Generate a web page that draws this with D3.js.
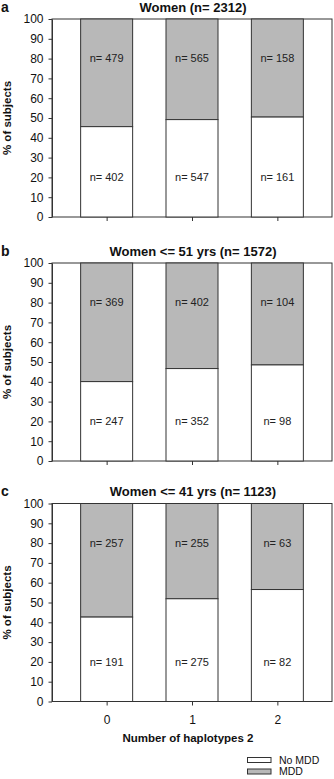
<!DOCTYPE html>
<html>
<head>
<meta charset="utf-8">
<script src="https://cdn.jsdelivr.net/npm/d3@7"></script>
<style>
  body { margin: 0; background: #fff; }
  text { font-family: "Liberation Sans", Arial, sans-serif; }
</style>
</head>
<body>
<div id="viz_container"></div>
<script>
// data
const haplotypes = [0, 1, 2];
const panelLetters = ["a", "b", "c"];
const panelTitles = ["Women (n= 2312)", "Women <= 51 yrs (n= 1572)", "Women <= 41 yrs (n= 1123)"];
const noMddCounts = [[402, 547, 161], [247, 352, 98], [191, 275, 82]];
const mddCounts = [[479, 565, 158], [369, 402, 104], [257, 255, 63]];
const yTicks = [0, 10, 20, 30, 40, 50, 60, 70, 80, 90, 100];
const legendLabels = ["No MDD", "MDD"];

const width = 334, height = 779;
const svg = d3.select("#viz_container")
  .append("svg")
  .attr("width", width)
  .attr("height", height);

const colors = ["#ffffff", "#b8b8b8"];
const strokeCol = "#333333";
const font = "'Liberation Sans', Arial, sans-serif";

// x scale shared by all panels
const x = d3.scalePoint()
  .domain(haplotypes)
  .range([52, 332])
  .padding(0.64);
const barW = 52;

// panel top positions
const panelTop = [19, 263, 503.5];
const panelH = 198;

panelTitles.forEach((title, i) => {
  const g = svg.append("g").attr("transform", `translate(0,${panelTop[i]})`);
  const y = d3.scaleLinear().domain([0, 100]).range([panelH, 0]);

  const rows = haplotypes.map((h, j) => {
    const tot = noMddCounts[i][j] + mddCounts[i][j];
    return { h, no: noMddCounts[i][j], mdd: mddCounts[i][j], pct: noMddCounts[i][j] / tot * 100 };
  });

  // frame
  g.append("rect")
    .attr("x", 52).attr("y", 0)
    .attr("width", 332 - 52).attr("height", panelH)
    .attr("fill", "none")
    .attr("stroke", strokeCol)
    .attr("stroke-width", 1);

  // MDD (grey, top part)
  g.selectAll(".mdd")
    .data(rows)
    .join("rect")
    .attr("class", "mdd")
    .attr("x", d => x(d.h) - barW / 2)
    .attr("y", y(100))
    .attr("width", barW)
    .attr("height", d => y(d.pct) - y(100))
    .attr("fill", colors[1])
    .attr("stroke", strokeCol)
    .attr("stroke-width", 1);

  // No MDD (white, bottom part)
  g.selectAll(".nomdd")
    .data(rows)
    .join("rect")
    .attr("class", "nomdd")
    .attr("x", d => x(d.h) - barW / 2)
    .attr("y", d => y(d.pct))
    .attr("width", barW)
    .attr("height", d => y(0) - y(d.pct))
    .attr("fill", colors[0])
    .attr("stroke", strokeCol)
    .attr("stroke-width", 1);

  // n labels
  g.selectAll(".lblm")
    .data(rows)
    .join("text")
    .attr("x", d => x(d.h))
    .attr("y", y(80))
    .attr("dy", "0.35em")
    .attr("text-anchor", "middle")
    .style("font-size", "11px")
    .style("fill", "#222")
    .text(d => "n= " + d.mdd);
  g.selectAll(".lbln")
    .data(rows)
    .join("text")
    .attr("x", d => x(d.h))
    .attr("y", y(20))
    .attr("dy", "0.35em")
    .attr("text-anchor", "middle")
    .style("font-size", "11px")
    .style("fill", "#222")
    .text(d => "n= " + d.no);

  // y axis
  const yAxis = g.append("g")
    .attr("transform", "translate(52,0)")
    .call(d3.axisLeft(y).tickValues(yTicks).tickSize(3.5).tickPadding(5).tickSizeOuter(0));
  yAxis.select(".domain").attr("stroke", strokeCol);
  yAxis.selectAll("line").attr("stroke", strokeCol);
  yAxis.selectAll("text").style("font-size", "12px").style("fill", "#111")
    .style("font-family", font);

  // x axis
  const xAxis = g.append("g")
    .attr("transform", `translate(0,${panelH})`)
    .call(d3.axisBottom(x).tickSize(4).tickPadding(10).tickSizeOuter(0)
      .tickFormat(i === 2 ? d => d : () => ""));
  xAxis.select(".domain").remove();
  xAxis.selectAll("line").attr("stroke", strokeCol);
  xAxis.selectAll("text").style("font-size", "12px").style("fill", "#111")
    .style("font-family", font);

  // y title
  g.append("text")
    .attr("transform", `translate(7,${panelH / 2}) rotate(-90)`)
    .attr("text-anchor", "middle")
    .attr("dy", "0.35em")
    .style("font-size", "11.5px")
    .style("font-weight", "bold")
    .style("fill", "#111")
    .text("% of subjects");

  // title + letter
  g.append("text")
    .attr("x", 193)
    .attr("y", -12)
    .attr("dy", "0.35em")
    .attr("text-anchor", "middle")
    .style("font-size", "13px")
    .style("font-weight", "bold")
    .style("fill", "#111")
    .text(title);
  g.append("text")
    .attr("x", 1)
    .attr("y", -12)
    .attr("dy", "0.35em")
    .style("font-size", "14px")
    .style("font-weight", "bold")
    .style("fill", "#111")
    .text(panelLetters[i]);
});

// x title
svg.append("text")
  .attr("x", 188)
  .attr("y", 738)
  .attr("dy", "0.35em")
  .attr("text-anchor", "middle")
  .style("font-size", "11.5px")
  .style("font-weight", "bold")
  .style("fill", "#111")
  .text("Number of haplotypes 2");

// legend
const legend = svg.append("g");
legend.selectAll("rect")
  .data(legendLabels)
  .join("rect")
  .attr("x", 247.5)
  .attr("y", (d, i) => 757.5 + i * 11.5)
  .attr("width", 23.5)
  .attr("height", 5)
  .attr("fill", (d, i) => colors[i])
  .attr("stroke", strokeCol)
  .attr("stroke-width", 1);
legend.selectAll("text")
  .data(legendLabels)
  .join("text")
  .attr("x", 279)
  .attr("y", (d, i) => 760 + i * 11.5)
  .attr("dy", "0.35em")
  .style("font-size", "10.5px")
  .style("fill", "#111")
  .text(d => d);
</script>
</body>
</html>
